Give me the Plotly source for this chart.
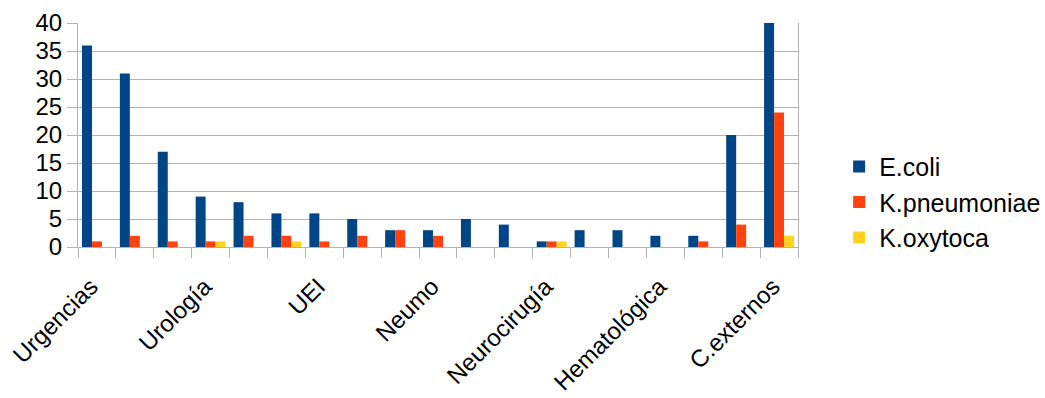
import plotly.graph_objects as go

categories = [
    "Urgencias", "Medicina Interna", "Nefrología",
    "Urología", "Cirugía", "Ginecología",
    "UEI", "UCI", "Oncología",
    "Neumo", "Digestivo", "Cardiología",
    "Neurocirugía", "Traumatología", "Pediatría",
    "Hematológica", "Geriatría", "Hospital de día",
    "C.externos",
]
shown_labels = ["Urgencias", "Urología", "UEI", "Neumo", "Neurocirugía", "Hematológica", "C.externos"]

ecoli = [36, 31, 17, 9, 8, 6, 6, 5, 3, 3, 5, 4, 1, 3, 3, 2, 2, 20, 40]
kpneumoniae = [1, 2, 1, 1, 2, 2, 1, 2, 3, 2, 0, 0, 1, 0, 0, 0, 1, 4, 24]
koxytoca = [0, 0, 0, 1, 0, 1, 0, 0, 0, 0, 0, 0, 1, 0, 0, 0, 0, 0, 2]

series = [
    ("E.coli", ecoli, "#004586"),
    ("K.pneumoniae", kpneumoniae, "#ff420e"),
    ("K.oxytoca", koxytoca, "#ffd320"),
]

fig = go.Figure()
for name, vals, color in series:
    fig.add_trace(go.Bar(x=categories, y=vals, name=name, marker=dict(color=color, line=dict(width=0))))

grid = "#b3b3b3"
fig.update_layout(
    width=1045, height=398,
    margin=dict(l=78, r=247, t=23, b=151, autoexpand=False),
    paper_bgcolor="white", plot_bgcolor="white",
    font=dict(family="Liberation Sans, Arial, sans-serif", size=24, color="#000000"),
    barmode="group", bargap=0.21, bargroupgap=0,
    showlegend=True,
    legend=dict(xref="container", x=0.803, xanchor="left", y=0.2, yanchor="middle",
                font=dict(size=25), itemsizing="constant", tracegroupgap=0),
)
fig.update_xaxes(
    type="category",
    tickvals=categories,
    ticktext=[c if c in shown_labels else "" for c in categories],
    tickangle=-45,
    tickson="boundaries",
    ticks="outside", ticklen=10, tickcolor=grid, tickwidth=1,
    ticklabelstandoff=15, ticklabelshift=-6,
    showgrid=False, showline=True, linecolor=grid, linewidth=1,
    tickfont=dict(size=24),
    automargin=False,
)
fig.update_yaxes(
    range=[0, 40], dtick=5, tick0=0,
    ticks="outside", ticklen=10, tickcolor=grid, tickwidth=1,
    showgrid=True, gridcolor=grid, gridwidth=1,
    showline=True, mirror=True, linecolor=grid, linewidth=1,
    zeroline=False,
    tickfont=dict(size=24),
    automargin=False,
)

fig.write_html("out.html")
